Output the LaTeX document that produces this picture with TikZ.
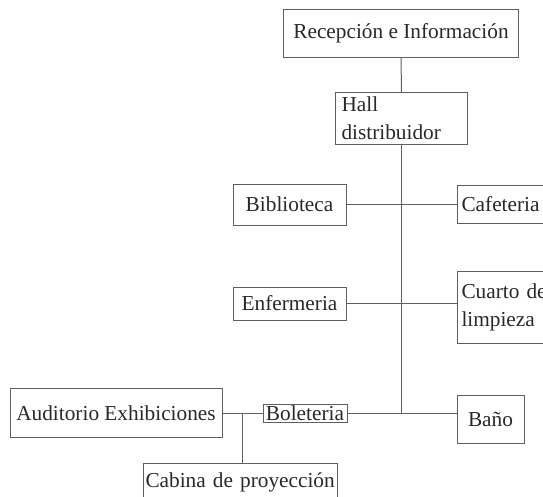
\documentclass[tikz,border=0pt]{standalone}
\usepackage{fontspec}
\setmainfont{Liberation Serif}
\usepackage{tikz}
\usetikzlibrary{positioning}
\definecolor{boxline}{RGB}{95,95,95}
\definecolor{boxtext}{RGB}{40,40,40}
\newcommand{\roomfont}{\fontsize{21.3}{28}\selectfont}
\tikzset{
  room/.style={rectangle, draw=boxline, line width=1pt, text=boxtext,
    font=\roomfont, inner sep=0pt, align=center},
  leftroom/.style={rectangle, draw=boxline, line width=1pt, text=boxtext,
    font=\roomfont, inner ysep=0pt, inner xsep=4pt, align=left, anchor=north west},
  link/.style={line width=1pt, color=boxline}
}
\begin{document}
\begin{tikzpicture}[x=1pt, y=-1pt]
  \useasboundingbox (0,0) rectangle (543,496);
  \clip (0,0) rectangle (543,496);
  % Recepcion
  \node[room, minimum width=235pt, minimum height=48pt] (recep) at (401,33) {Recepción e Información};
  % Hall
  \node[leftroom, text width=120pt, inner xsep=6pt, minimum height=52pt] (hall) at (335,92) {Hall\\distribuidor};
  % Biblioteca / Cafeteria
  \node[room, minimum width=113pt, minimum height=41pt] (biblio) at (289.5,204.5) {Biblioteca};
  \node[leftroom, text width=110pt, minimum height=38pt] (cafe) at (457,185) {Cafeteria};
  % Enfermeria / Cuarto de limpieza
  \node[room, minimum width=113pt, minimum height=33pt] (enfer) at (289.5,303.5) {Enfermeria};
  \node[leftroom, text width=110pt, minimum height=72pt] (cuarto) at (457,271) {Cuarto de\\limpieza};
  % Auditorio, Boleteria, Bano
  \node[room, minimum width=212pt, minimum height=49pt] (audit) at (116,413) {Auditorio Exhibiciones};
  \node[room, minimum width=84pt, minimum height=18pt] (bolet) at (305,413) {Boleteria};
  \node[room, minimum width=67pt, minimum height=48pt] (bano) at (490.5,419) {Baño};
  % Cabina
  \node[leftroom, text width=190pt, inner xsep=2pt, minimum height=38pt] (cabina) at (143,463) {Cabina de proyección};

  % Lines
  \coordinate (cabj) at (242,413);
  \draw[link] (recep.south) -- (hall.north);
  \draw[link] (hall.south) -- (hall.south |- bolet.east);
  \draw[link] (biblio.east) -- (biblio.east -| cafe.west);
  \draw[link] (enfer.east) -- (enfer.east -| cuarto.west);
  \draw[link] (audit.east) -- (bolet.west);
  \draw[link] (cabj) -- (cabj |- cabina.north);
  \draw[link] (bolet.east) -- (bolet.east -| bano.west);
\end{tikzpicture}
\end{document}
